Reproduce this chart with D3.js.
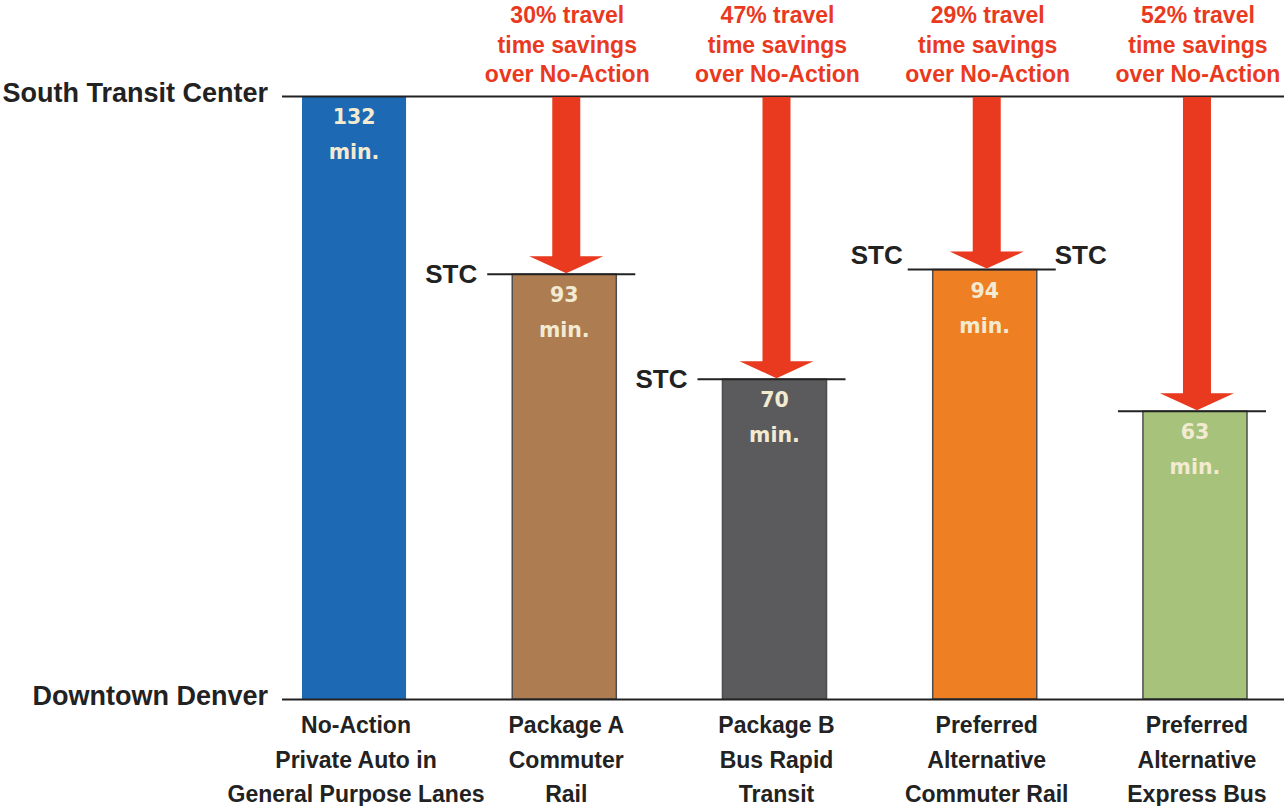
<!DOCTYPE html>
<html>
<head>
<meta charset="utf-8">
<script src="https://cdn.jsdelivr.net/npm/d3@7"></script>
<style>
  html, body { margin: 0; padding: 0; background: #ffffff; }
  svg { display: block; }
</style>
</head>
<body>
<svg id="chart" width="1284" height="806"></svg>
<script>
// ---- data ----
const categories = [
  ["No-Action", "Private Auto in", "General Purpose Lanes"],
  ["Package A", "Commuter", "Rail"],
  ["Package B", "Bus Rapid", "Transit"],
  ["Preferred", "Alternative", "Commuter Rail"],
  ["Preferred", "Alternative", "Express Bus"]
];
const travelMinutes = [132, 93, 70, 94, 63];
const savingsPct = [null, 30, 47, 29, 52];
const stcLabelSides = [[], ["left"], ["left"], ["left", "right"], []];
const endpointLabels = ["Downtown Denver", "South Transit Center"];
const barColors = ["#1e69b4", "#ad7d51", "#5b5b5d", "#ee7f22", "#a6c27b"];

// ---- layout ----
const W = 1284, H = 806;
const svg = d3.select("#chart");
const axisX = 282;
const idx = d3.range(categories.length);

const x = d3.scaleBand().domain(idx).range([302, 1247]).paddingInner(0.505).paddingOuter(0);
const y = d3.scaleLinear().domain([0, 132]).range([699, 96]);

const FONT = "'Liberation Sans', Arial, Helvetica, sans-serif";
const RED = "#e9391e";

// bars
svg.append("g").selectAll("rect").data(idx).join("rect")
  .attr("x", i => x(i))
  .attr("y", i => y(travelMinutes[i]))
  .attr("width", x.bandwidth())
  .attr("height", i => y(0) - y(travelMinutes[i]))
  .attr("fill", i => barColors[i])
  .attr("stroke", i => i === 0 ? "none" : "#4d4d4d")
  .attr("stroke-width", 1.5);

// endpoint axis (Downtown Denver / South Transit Center)
const yAxis = d3.axisLeft(y)
  .tickValues([0, 132])
  .tickSize(-(W - axisX))
  .tickPadding(14)
  .tickFormat(v => v === 0 ? endpointLabels[0] : endpointLabels[1]);
const ag = svg.append("g").attr("transform", `translate(${axisX},0)`).call(yAxis);
ag.select(".domain").remove();
ag.selectAll(".tick line").attr("stroke", "#222").attr("stroke-width", 2);
ag.selectAll(".tick text")
  .attr("fill", "#222")
  .style("font-family", FONT)
  .style("font-weight", "bold")
  .style("font-size", "27px")
  .attr("dy", "0.2em");

// STC tick lines
const stcIdx = idx.filter(i => i > 0);
svg.append("g").selectAll("line").data(stcIdx).join("line")
  .attr("x1", i => x(i) - 25)
  .attr("x2", i => x(i) + x.bandwidth() + 19)
  .attr("y1", i => y(travelMinutes[i]))
  .attr("y2", i => y(travelMinutes[i]))
  .attr("stroke", "#222")
  .attr("stroke-width", 2);

// STC labels
const stcData = [];
idx.forEach(i => stcLabelSides[i].forEach(side => stcData.push({ i, side, both: stcLabelSides[i].length > 1 })));
svg.append("g").selectAll("text").data(stcData).join("text")
  .attr("x", d => d.side === "left" ? x(d.i) - (d.both ? 30 : 35) : x(d.i) + x.bandwidth() + 18)
  .attr("y", d => y(travelMinutes[d.i]) + (d.both ? -6 : 9))
  .attr("text-anchor", d => d.side === "left" ? "end" : "start")
  .attr("fill", "#222")
  .style("font-family", FONT)
  .style("font-weight", "bold")
  .style("font-size", "26px")
  .text("STC");

// arrows
const shaftW = 28, headW = 74, headH = 17;
const arrowG = svg.append("g");
stcIdx.forEach(i => {
  const cx = x(i) + x.bandwidth() / 2 + 2;
  const top = y(132) + 1;
  const tip = y(travelMinutes[i]) - 1;
  const hy = tip - headH;
  const p = d3.path();
  p.moveTo(cx - shaftW / 2, top);
  p.lineTo(cx + shaftW / 2, top);
  p.lineTo(cx + shaftW / 2, hy);
  p.lineTo(cx + headW / 2, hy);
  p.lineTo(cx, tip);
  p.lineTo(cx - headW / 2, hy);
  p.lineTo(cx - shaftW / 2, hy);
  p.closePath();
  arrowG.append("path").attr("d", p.toString()).attr("fill", RED);
});

// savings annotations
const annG = svg.append("g");
stcIdx.forEach(i => {
  const cx = x(i) + x.bandwidth() / 2 + 3;
  const lines = [`${savingsPct[i]}% travel`, "time savings", "over No-Action"];
  const t = annG.append("text")
    .attr("text-anchor", "middle")
    .attr("fill", RED)
    .style("font-family", FONT)
    .style("font-weight", "bold")
    .style("font-size", "23px");
  lines.forEach((ln, k) => {
    t.append("tspan").attr("x", cx).attr("y", 23 + k * 29.5).text(ln);
  });
});

// value labels inside bars
const valG = svg.append("g");
idx.forEach(i => {
  const cx = x(i) + x.bandwidth() / 2;
  const top = y(travelMinutes[i]);
  const t = valG.append("text")
    .attr("text-anchor", "middle")
    .attr("fill", "#f3ebd1")
    .style("font-family", "'DejaVu Sans', Verdana, sans-serif")
    .style("font-weight", "bold")
    .style("font-size", "20.5px");
  t.append("tspan").attr("x", cx).attr("y", top + 28).text(travelMinutes[i]);
  t.append("tspan").attr("x", cx).attr("y", top + 63).text("min.");
});

// category labels
const catG = svg.append("g");
idx.forEach(i => {
  const cx = x(i) + x.bandwidth() / 2 + 2;
  const t = catG.append("text")
    .attr("text-anchor", "middle")
    .attr("fill", "#222")
    .style("font-family", FONT)
    .style("font-weight", "bold")
    .style("font-size", "23px");
  categories[i].forEach((ln, k) => {
    t.append("tspan").attr("x", cx).attr("y", 733 + k * 34.5).text(ln);
  });
});
</script>
</body>
</html>
